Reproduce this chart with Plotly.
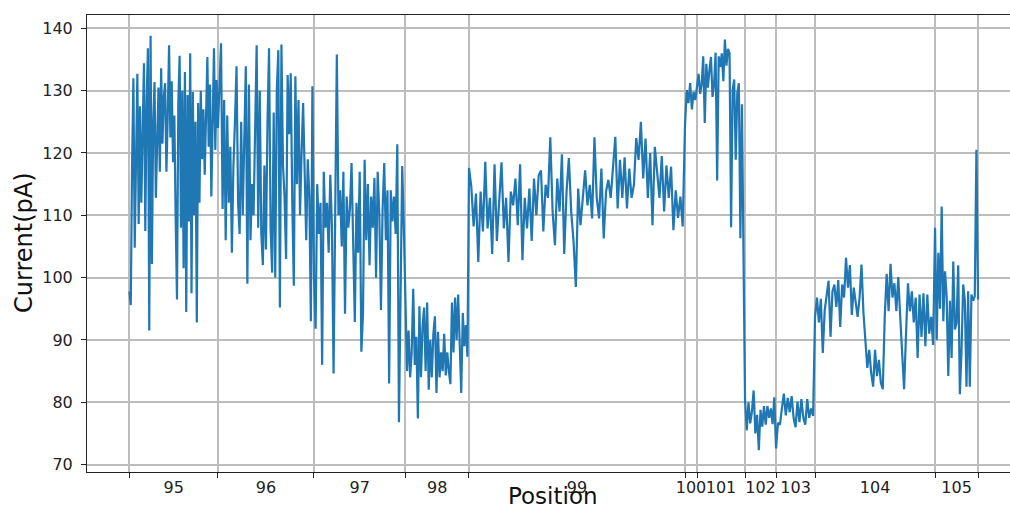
import plotly.graph_objects as go

# ---------------- data ----------------
positions = ["95", "96", "97", "98", "99", "100", "101", "102", "103", "104", "105"]
# sample index where each position's event starts (last value = end of signal)
boundaries = [0, 177, 369, 552, 679, 1111, 1135, 1231, 1293, 1371, 1611, 1697]

seg_95 = [97.8, 95.6, 118.0, 132.0, 104.8, 121.0, 132.7, 108.6, 127.5, 112.0, 124.0, 134.4,
          107.5, 128.0, 136.8, 91.5, 138.8, 102.2, 125.0, 131.4, 112.8, 124.0, 130.5, 117.0,
          133.6, 121.5, 129.0, 131.2, 117.0, 126.0, 137.3, 122.5, 131.5, 118.5, 126.0, 109.5,
          96.5, 128.0, 135.6, 108.0, 130.0, 101.5, 133.0, 94.5, 129.3, 109.0, 136.0, 97.5,
          129.8, 110.0, 125.0, 92.8, 128.0, 112.0, 130.0, 119.0, 127.0, 116.5, 124.0, 135.4,
          121.0, 131.0, 113.0, 128.0, 136.8, 120.5, 131.7]
seg_96 = [124.0, 131.0, 137.6, 111.0, 128.5, 106.0, 126.0, 112.0, 121.0, 104.0, 118.0, 125.0,
          133.9, 112.0, 107.0, 125.0, 110.0, 122.0, 133.9, 99.0, 131.0, 106.0, 115.0, 110.0,
          128.0, 137.3, 108.0, 130.0, 107.0, 102.0, 118.0, 104.5, 125.0, 136.8, 108.0, 100.8,
          126.5, 100.0, 130.0, 136.5, 95.2, 137.4, 118.0, 113.0, 103.0, 132.5, 123.0, 132.8,
          112.0, 98.7, 132.3, 115.0, 128.5, 110.0, 120.0, 128.0, 117.0, 106.0, 119.0, 113.0,
          93.0, 130.7]
seg_97 = [100.0, 91.8, 115.0, 107.0, 112.0, 86.0, 117.0, 108.0, 112.0, 104.0, 116.5, 108.0,
          84.6, 110.0, 135.8, 110.0, 114.0, 105.0, 117.0, 94.2, 113.0, 108.0, 111.0, 118.4,
          106.0, 92.9, 112.0, 104.0, 117.0, 88.1, 94.2, 118.9, 106.0, 115.0, 102.0, 113.0,
          108.0, 116.0, 100.0, 117.0, 110.0, 94.8, 111.0, 118.4, 106.0, 114.0, 83.0, 114.0,
          109.0, 113.0, 107.0, 121.4, 76.8, 102.8, 117.9, 108.0]
seg_98 = [92.6, 85.0, 91.5, 84.0, 88.0, 98.2, 86.0, 90.5, 77.4, 95.4, 84.0, 92.0, 95.2, 85.0,
          96.0, 82.0, 90.0, 84.0, 91.0, 93.8, 81.5, 91.3, 84.0, 88.0, 85.0, 91.0, 84.3, 88.0,
          85.0, 82.9, 96.0, 88.0, 96.8, 90.0, 97.3, 88.0, 81.5, 94.3, 89.0, 92.4, 87.3]
seg_99 = [117.6, 114.6, 108.2, 113.5, 102.5, 113.8, 107.4, 118.6, 107.9, 112.8, 103.8, 118.2,
          105.9, 112.8, 118.5, 107.9, 112.8, 102.5, 113.8, 111.6, 115.9, 108.4, 118.2, 102.8,
          112.8, 107.9, 114.3, 105.9, 115.9, 110.0, 116.4, 117.2, 107.4, 114.9, 112.8, 122.5,
          110.6, 105.2, 115.9, 110.6, 119.8, 103.8, 113.8, 119.2, 110.6, 105.9, 98.5, 114.3,
          108.4, 112.8, 117.2, 111.6, 114.9, 109.5, 122.5, 112.8, 109.5, 117.5, 106.3, 113.8,
          115.7, 112.8, 118.0, 122.6, 111.1, 118.9, 112.8, 119.3, 111.1, 117.5, 112.8, 114.9,
          122.4, 118.9, 125.0, 115.9, 122.3, 112.8, 120.0, 108.4, 121.0, 116.7, 112.8, 119.5,
          110.6, 118.0, 112.8, 117.8, 107.6, 114.0, 109.6, 113.0, 108.2]
seg_100 = [124.5, 130.1, 128.0, 131.2, 127.0, 129.8, 128.5]
seg_101 = [130.8, 132.7, 129.5, 131.0, 135.5, 124.8, 134.3, 130.5, 133.3, 135.4, 129.0, 131.0,
           136.1, 115.6, 135.5, 133.8, 136.0, 131.5, 138.2, 134.0, 136.7, 136.0, 108.1, 130.1,
           131.8, 118.9, 129.6, 131.2, 106.3, 127.8, 104.0]
seg_102 = [80.4, 75.5, 80.0, 76.6, 78.5, 81.9, 75.0, 78.0, 72.3, 78.8, 76.1, 79.4, 76.4, 79.4,
           77.5, 79.0, 76.5, 80.8]
seg_103 = [72.6, 76.7, 76.4, 79.0, 81.4, 77.9, 80.7, 78.4, 81.0, 77.5, 76.0, 80.1, 76.8, 80.5,
           77.5, 76.4, 80.5, 77.5, 79.0, 77.8]
seg_104 = [93.7, 96.8, 92.8, 96.6, 87.9, 94.8, 97.6, 99.5, 90.5, 97.8, 98.9, 95.3, 99.6, 92.1,
           98.9, 96.8, 103.2, 98.4, 102.0, 94.0, 98.4, 96.3, 93.7, 96.8, 102.1, 94.4, 90.5, 85.5,
           88.4, 84.7, 82.5, 88.4, 84.2, 86.8, 83.1, 82.1, 93.7, 100.6, 94.6, 102.2, 96.8, 99.1,
           94.6, 100.1, 93.7, 86.8, 82.1, 91.0, 99.1, 94.6, 97.8, 92.8, 96.8, 87.1, 97.3, 90.5,
           97.5, 89.0, 97.3, 91.0, 93.7, 89.2]
seg_105 = [108.0, 90.0, 104.0, 95.0, 111.4, 93.0, 101.0, 97.0, 84.2, 96.3, 87.1, 102.6, 91.7,
           92.7, 102.0, 81.3, 88.3, 98.9, 96.3, 82.5, 97.8, 82.5, 97.3, 96.3, 97.0, 120.5, 96.5]

segments = [seg_95, seg_96, seg_97, seg_98, seg_99, seg_100, seg_101,
            seg_102, seg_103, seg_104, seg_105]

yticks = [70, 80, 90, 100, 110, 120, 130, 140]

# ---------------- build trace ----------------
xs, ys = [], []
for k, vals in enumerate(segments):
    start, end = boundaries[k], boundaries[k + 1]
    n = len(vals)
    last = k == len(segments) - 1
    step = (end - start) / ((n - 1) if last else n)
    for i, v in enumerate(vals):
        xs.append(start + i * step)
        ys.append(v)

centers = [(boundaries[k] + boundaries[k + 1]) / 2 for k in range(len(positions))]

W, H = 1010, 510
ML, MR, MT, MB = 87, 0, 15, 38
plot_w = W - ML - MR
plot_h = H - MT - MB
span = boundaries[-1] - boundaries[0]
x_lo = boundaries[0] - 0.05 * span
units_per_px = (span * 1.1) / (1020.4 - 86.9)
x_hi = x_lo + plot_w * units_per_px

fig = go.Figure()
fig.add_trace(go.Scatter(x=xs, y=ys, mode="lines",
                         line=dict(color="#1f77b4", width=2.2), hoverinfo="skip"))

font_family = "DejaVu Sans"
tick_font = dict(family=font_family, size=16, color="#222222")
grid_col = "#bdbdbd"

fig.update_layout(
    width=W, height=H,
    margin=dict(l=ML, r=MR, t=MT, b=MB, pad=0),
    paper_bgcolor="white", plot_bgcolor="white",
    showlegend=False,
    font=dict(family=font_family),
    xaxis=dict(
        range=[x_lo, x_hi], automargin=False,
        tickmode="array", tickvals=centers, ticktext=positions, tickangle=0,
        ticks="outside", ticklen=1, tickcolor="rgba(0,0,0,0)",
        tickfont=tick_font,
        showgrid=False, zeroline=False,
        showline=True, linecolor="#222222", linewidth=1, mirror=True,
        minor=dict(tickmode="array", tickvals=boundaries, ticks="outside",
                   ticklen=5, tickcolor="#222222", tickwidth=1,
                   showgrid=True, gridcolor=grid_col, gridwidth=1.5),
    ),
    yaxis=dict(
        range=[68.81, 142.14], automargin=False,
        tickmode="array", tickvals=yticks, ticktext=[str(t) for t in yticks],
        ticks="outside", ticklen=5, tickcolor="#222222", tickwidth=1,
        ticklabelstandoff=5,
        tickfont=tick_font,
        showgrid=True, gridcolor=grid_col, gridwidth=1.5, zeroline=False,
        showline=True, linecolor="#222222", linewidth=1, mirror=False,
    ),
    annotations=[
        dict(text="Position", xref="paper", yref="paper",
             x=(552.5 - ML) / plot_w, y=((H - MB) - 510) / plot_h,
             xanchor="center", yanchor="bottom", showarrow=False, borderpad=0,
             font=dict(family=font_family, size=23, color="#111111")),
        dict(text="Current(pA)", xref="paper", yref="paper",
             x=(24 - ML) / plot_w, y=((H - MB) - 243) / plot_h,
             xanchor="center", yanchor="middle", textangle=-90, showarrow=False,
             font=dict(family=font_family, size=24, color="#111111")),
    ],
)

fig.write_html("out.html")
